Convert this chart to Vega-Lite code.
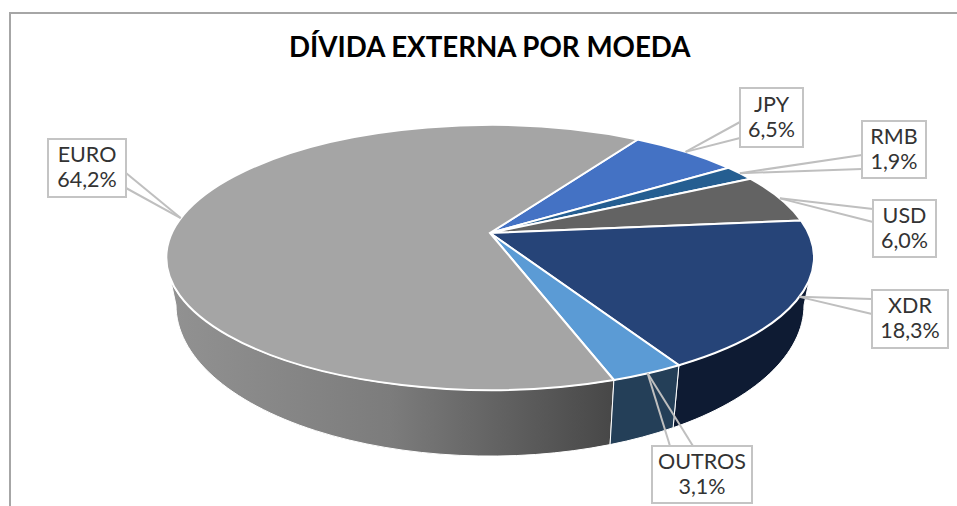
{
  "$schema": "https://vega.github.io/schema/vega-lite/v6.json",
  "width": 957,
  "height": 506,
  "padding": 0,
  "autosize": {"type": "none"},
  "background": "white",
  "config": {"view": {"stroke": null}},
  "title": {
    "text": "DÍVIDA EXTERNA POR MOEDA",
    "anchor": "start",
    "frame": "group",
    "dx": 289,
    "offset": -63,
    "font": "Lato",
    "fontWeight": "bold",
    "fontSize": 27.7,
    "color": "#000000"
  },
  "data": {
    "values": [
      {"ordem": 1, "moeda": "JPY", "valor": 6.5},
      {"ordem": 2, "moeda": "RMB", "valor": 1.9},
      {"ordem": 3, "moeda": "USD", "valor": 6.0},
      {"ordem": 4, "moeda": "XDR", "valor": 18.3},
      {"ordem": 5, "moeda": "OUTROS", "valor": 3.1},
      {"ordem": 6, "moeda": "EURO", "valor": 64.2}
    ]
  },
  "transform": [
    {"window": [{"op": "sum", "field": "valor", "as": "acum"}], "sort": [{"field": "ordem"}]},
    {"calculate": "32.4 + (datum.acum - datum.valor) * 3.6", "as": "a0"},
    {"calculate": "32.4 + datum.acum * 3.6", "as": "a1"},
    {"calculate": "datum.valor > 45 ? 1 : 0", "as": "grande"},
    {"calculate": "round(3184 * sin(datum.a0 * PI / 180) / (1 + 0.185 * cos(datum.a0 * PI / 180))) / 10", "as": "x0"},
    {"calculate": "round(-1280 * cos(datum.a0 * PI / 180) / (1 + 0.185 * cos(datum.a0 * PI / 180))) / 10", "as": "y0"},
    {"calculate": "round(3184 * sin(datum.a1 * PI / 180) / (1 + 0.185 * cos(datum.a1 * PI / 180))) / 10", "as": "x1"},
    {"calculate": "round(-1280 * cos(datum.a1 * PI / 180) / (1 + 0.185 * cos(datum.a1 * PI / 180))) / 10", "as": "y1"},
    {"calculate": "(datum.a0 + datum.a1) / 2 * PI / 180", "as": "am"},
    {"calculate": "318.4 * sin(datum.am) / (1 + 0.185 * cos(datum.am))", "as": "xm"},
    {"calculate": "-128 * cos(datum.am) / (1 + 0.185 * cos(datum.am))", "as": "ym"},
    {"calculate": "'M0 0L' + datum.x0 + ' ' + datum.y0 + 'A324 132.5 0 ' + datum.grande + ' 1 ' + datum.x1 + ' ' + datum.y1 + 'Z'", "as": "fatia"},
    {"calculate": "max(datum.a0, 100.7)", "as": "p0"},
    {"calculate": "min(datum.a1, 259.3)", "as": "p1"},
    {"calculate": "round(3184 * sin(datum.p0 * PI / 180) / (1 + 0.185 * cos(datum.p0 * PI / 180))) / 10", "as": "px0"},
    {"calculate": "round(-1280 * cos(datum.p0 * PI / 180) / (1 + 0.185 * cos(datum.p0 * PI / 180))) / 10", "as": "py0"},
    {"calculate": "round(3184 * sin(datum.p1 * PI / 180) / (1 + 0.185 * cos(datum.p1 * PI / 180))) / 10", "as": "px1"},
    {"calculate": "round(-1280 * cos(datum.p1 * PI / 180) / (1 + 0.185 * cos(datum.p1 * PI / 180))) / 10", "as": "py1"},
    {"calculate": "'M' + datum.px0 + ' ' + datum.py0 + 'A324 132.5 0 0 1 ' + datum.px1 + ' ' + datum.py1 + 'L' + round(datum.px1 * 3140 / 324) / 10 + ' ' + round(((datum.py1 - 24.5) * 151 / 132.5 + 72) * 10) / 10 + 'A314 151 0 0 0 ' + round(datum.px0 * 3140 / 324) / 10 + ' ' + round(((datum.py0 - 24.5) * 151 / 132.5 + 72) * 10) / 10 + 'Z'", "as": "parede"},
    {"calculate": "{'EURO':[-442,-94,-364,-36],'JPY':[250,-145,313,-86],'RMB':[372,-112,436,-55],'USD':[383,-33,446,24],'XDR':[382,57,458,115],'OUTROS':[162,213,262,270]}[datum.moeda]", "as": "caixa"},
    {"calculate": "{'EURO':[-364,-60,-364,-45],'JPY':[250,-111,250,-95],'RMB':[372,-78,372,-64],'USD':[383,-24,383,-11],'XDR':[382,66,382,81],'OUTROS':[180,213,203,213]}[datum.moeda]", "as": "guia"},
    {"calculate": "datum.caixa[0]", "as": "cx1"},
    {"calculate": "datum.caixa[1]", "as": "cy1"},
    {"calculate": "datum.caixa[2]", "as": "cx2"},
    {"calculate": "datum.caixa[3]", "as": "cy2"},
    {"calculate": "(datum.cx1 + datum.cx2) / 2", "as": "cxm"},
    {"calculate": "(datum.cy1 + datum.cy2) / 2", "as": "cym"},
    {"calculate": "datum.guia[0]", "as": "gax"},
    {"calculate": "datum.guia[1]", "as": "gay"},
    {"calculate": "datum.guia[2]", "as": "gbx"},
    {"calculate": "datum.guia[3]", "as": "gby"},
    {"calculate": "datum.moeda + '\\n' + replace(format(datum.valor, '.1f'), '.', ',') + '%'", "as": "rotulo"}
  ],
  "layer": [
    {
      "transform": [{"filter": "datum.moeda === 'EURO'"}],
      "mark": {"type": "rect", "fill": null, "stroke": "#a6a6a6", "strokeWidth": 2},
      "encoding": {
        "x": {"datum": -480, "type": "quantitative", "axis": null, "scale": {"domain": [-490, 467], "nice": false, "zero": false}},
        "x2": {"datum": 500},
        "y": {"datum": -220, "type": "quantitative", "axis": null, "scale": {"domain": [273, -233], "nice": false, "zero": false}},
        "y2": {"datum": 300}
      }
    },
    {
      "transform": [{"filter": "datum.moeda === 'EURO'"}],
      "mark": {
        "type": "point", "filled": true, "opacity": 1, "stroke": "white", "strokeWidth": 1,
        "fill": {
          "x1": 0, "y1": 0, "x2": 1, "y2": 0, "gradient": "linear",
          "stops": [
            {"offset": 0, "color": "#929292"},
            {"offset": 0.5, "color": "#7c7c7c"},
            {"offset": 1, "color": "#474747"}
          ]
        }
      },
      "encoding": {
        "x": {"datum": 0, "type": "quantitative", "axis": null, "scale": {"domain": [-490, 467], "nice": false, "zero": false}},
        "y": {"datum": 0, "type": "quantitative", "axis": null, "scale": {"domain": [273, -233], "nice": false, "zero": false}},
        "shape": {"field": "parede", "type": "nominal", "scale": null, "legend": null},
        "size": {"value": 4}
      }
    },
    {
      "transform": [{"filter": "datum.moeda !== 'EURO' && datum.p1 > datum.p0"}],
      "mark": {"type": "point", "filled": true, "opacity": 1, "stroke": "white", "strokeWidth": 1},
      "encoding": {
        "x": {"datum": 0, "type": "quantitative", "axis": null, "scale": {"domain": [-490, 467], "nice": false, "zero": false}},
        "y": {"datum": 0, "type": "quantitative", "axis": null, "scale": {"domain": [273, -233], "nice": false, "zero": false}},
        "shape": {"field": "parede", "type": "nominal", "scale": null, "legend": null},
        "size": {"value": 4},
        "fill": {"field": "moeda", "type": "nominal", "legend": null, "scale": {"domain": ["XDR", "OUTROS"], "range": ["#0e1b33", "#243f58"]}}
      }
    },
    {
      "mark": {"type": "point", "filled": true, "opacity": 1, "stroke": "white", "strokeWidth": 2},
      "encoding": {
        "x": {"datum": 0, "type": "quantitative", "axis": null, "scale": {"domain": [-490, 467], "nice": false, "zero": false}},
        "y": {"datum": 0, "type": "quantitative", "axis": null, "scale": {"domain": [273, -233], "nice": false, "zero": false}},
        "shape": {"field": "fatia", "type": "nominal", "scale": null, "legend": null},
        "size": {"value": 4},
        "color": {"field": "moeda", "type": "nominal", "legend": null, "scale": {"domain": ["EURO", "JPY", "RMB", "USD", "XDR", "OUTROS"], "range": ["#a5a5a5", "#4472c4", "#255e91", "#636363", "#264478", "#5b9bd5"]}}
      }
    },
    {
      "mark": {"type": "rule", "color": "#bfbfbf", "strokeWidth": 2},
      "encoding": {
        "x": {"field": "xm", "type": "quantitative", "axis": null, "scale": {"domain": [-490, 467], "nice": false, "zero": false}},
        "y": {"field": "ym", "type": "quantitative", "axis": null, "scale": {"domain": [273, -233], "nice": false, "zero": false}},
        "x2": {"field": "gax"},
        "y2": {"field": "gay"}
      }
    },
    {
      "mark": {"type": "rule", "color": "#bfbfbf", "strokeWidth": 2},
      "encoding": {
        "x": {"field": "xm", "type": "quantitative", "axis": null, "scale": {"domain": [-490, 467], "nice": false, "zero": false}},
        "y": {"field": "ym", "type": "quantitative", "axis": null, "scale": {"domain": [273, -233], "nice": false, "zero": false}},
        "x2": {"field": "gbx"},
        "y2": {"field": "gby"}
      }
    },
    {
      "mark": {"type": "rect", "fill": "white", "stroke": "#c4c4c4", "strokeWidth": 2},
      "encoding": {
        "x": {"field": "cx1", "type": "quantitative", "axis": null, "scale": {"domain": [-490, 467], "nice": false, "zero": false}},
        "x2": {"field": "cx2"},
        "y": {"field": "cy1", "type": "quantitative", "axis": null, "scale": {"domain": [273, -233], "nice": false, "zero": false}},
        "y2": {"field": "cy2"}
      }
    },
    {
      "mark": {"type": "text", "font": "Lato", "fontSize": 21.5, "lineHeight": 25, "lineBreak": "\n", "align": "center", "baseline": "middle", "dy": -12, "color": "#333333"},
      "encoding": {
        "x": {"field": "cxm", "type": "quantitative", "axis": null, "scale": {"domain": [-490, 467], "nice": false, "zero": false}},
        "y": {"field": "cym", "type": "quantitative", "axis": null, "scale": {"domain": [273, -233], "nice": false, "zero": false}},
        "text": {"field": "rotulo", "type": "nominal"}
      }
    }
  ],
  "resolve": {"scale": {"color": "independent", "fill": "independent"}}
}
